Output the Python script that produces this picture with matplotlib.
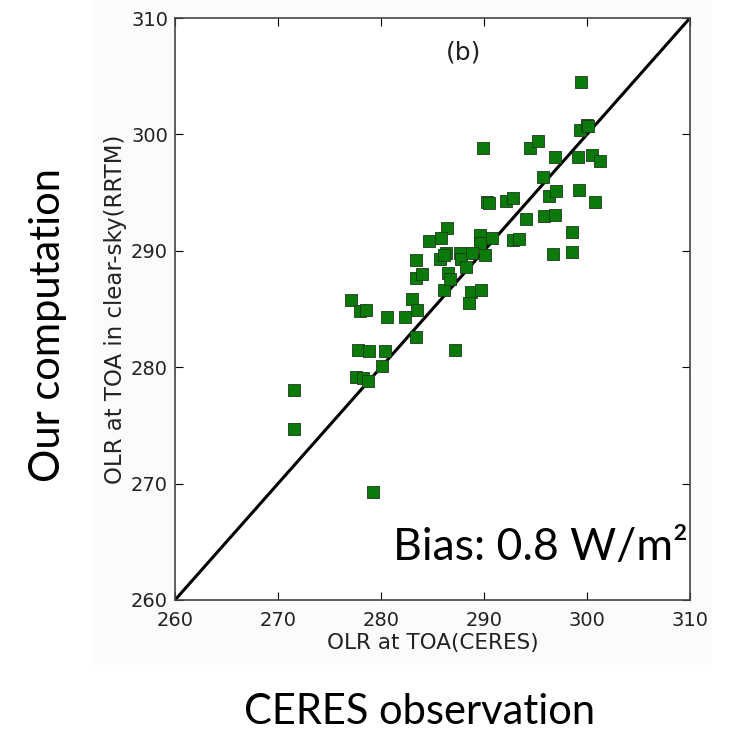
import matplotlib.pyplot as plt
from matplotlib.patches import Rectangle

# OLR at TOA, CERES (x) vs RRTM clear-sky computation (y), W/m2
ceres = [271.6, 271.6, 277.1, 278.0, 278.5, 280.6, 282.3, 283.0, 283.5, 283.4,
         283.4, 284.0, 284.7, 283.4, 277.8, 278.8, 280.4, 280.1, 277.6, 278.3,
         278.7, 279.2, 286.1, 299.4, 299.3, 300.0, 300.1, 289.9, 294.5, 295.2,
         296.9, 299.1, 300.5, 301.3, 295.7, 296.3, 297.0, 299.2, 300.8, 290.3,
         290.5, 292.1, 292.8, 294.1, 295.8, 296.9, 298.5, 298.5, 296.7, 286.4,
         285.8, 289.6, 289.6, 290.8, 292.8, 293.4, 285.7, 286.3, 286.1, 287.7,
         287.8, 288.8, 290.1, 288.3, 286.5, 286.7, 288.7, 289.7, 288.5, 287.2]
rrtm = [278.0, 274.7, 285.8, 284.8, 284.9, 284.3, 284.3, 285.9, 284.9, 289.2,
        287.7, 288.0, 290.8, 282.6, 281.5, 281.4, 281.4, 280.1, 279.2, 279.1,
        278.8, 269.3, 286.6, 304.5, 300.4, 300.8, 300.7, 298.8, 298.8, 299.4,
        298.1, 298.1, 298.2, 297.7, 296.3, 294.7, 295.1, 295.2, 294.2, 294.2,
        294.1, 294.3, 294.5, 292.7, 293.0, 293.1, 291.6, 289.9, 289.7, 292.0,
        291.1, 291.4, 290.7, 291.1, 290.9, 291.0, 289.3, 289.8, 289.6, 289.8,
        289.3, 289.8, 289.6, 288.6, 288.1, 287.6, 286.5, 286.6, 285.5, 281.5]
lims = [260, 310]
ticks = [260, 270, 280, 290, 300, 310]

fig = plt.figure(figsize=(7.31, 7.38), dpi=100)
# faint grey backdrop of the pasted plot
fig.patches.append(Rectangle((0.126, 0.099), 0.848, 0.901, transform=fig.transFigure,
                             facecolor="#fbfbfb", edgecolor="none", zorder=-1))

ax = fig.add_axes([0.2394, 0.187, 0.7045, 0.7886])
ax.plot(lims, lims, color="black", lw=2.2, zorder=2)
ax.scatter(ceres, rrtm, marker="s", s=85, color="#0b7a0b", edgecolor="#1a3a1a",
           linewidth=0.6, zorder=3)

ax.set_xlim(lims)
ax.set_ylim(lims)
ax.set_xticks(ticks)
ax.set_yticks(ticks)
ax.tick_params(direction="in", top=True, right=True, length=6, labelsize=14,
               labelcolor="#222222")
ax.tick_params(axis="x", pad=8)
ax.tick_params(axis="y", pad=5)
for s in ax.spines.values():
    s.set_color("#444444")
    s.set_linewidth(1.2)
ax.set_xlabel("OLR at TOA(CERES)", fontsize=15.5, color="#222222", labelpad=2)
ax.set_ylabel("OLR at TOA in clear-sky(RRTM)", fontsize=16.5, color="#222222", labelpad=3)

ax.text(0.56, 0.94, "(b)", transform=ax.transAxes, ha="center", va="center",
        fontsize=18, color="#222222")
ax.text(0.995, 0.09, "Bias: 0.8 W/m²", transform=ax.transAxes, ha="right",
        va="center", fontsize=32, family=["Lato", "DejaVu Sans"])

fig.text(0.066, 0.56, "Our computation", rotation=90, ha="center", va="center",
         fontsize=30, family=["Lato", "DejaVu Sans"])
fig.text(0.574, 0.035, "CERES observation", ha="center", va="center",
         fontsize=30, family=["Lato", "DejaVu Sans"])

fig.savefig("out.png", dpi=100)
